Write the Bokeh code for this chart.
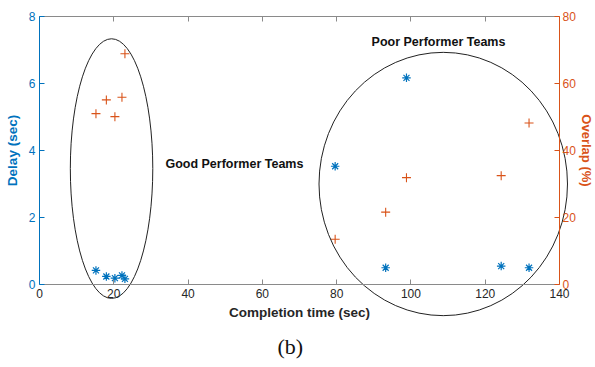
import numpy as np
from bokeh.plotting import figure
from bokeh.models import Range1d, LinearAxis, Label, FixedTicker
from bokeh.embed import file_html
from bokeh.resources import INLINE

# Completion time (sec) of each team
completion_time = [15.2, 18.0, 20.3, 22.2, 23.0, 79.6, 93.2, 98.8, 124.3, 131.8]
# Delay (sec), left axis
delay = [0.42, 0.24, 0.19, 0.27, 0.17, 3.53, 0.50, 6.17, 0.55, 0.50]
# Overlap (%), right axis
overlap = [51.0, 55.1, 50.1, 55.9, 68.9, 13.5, 21.6, 31.9, 32.5, 48.2]

x_ticks = [0, 20, 40, 60, 80, 100, 120, 140]
delay_ticks = [0, 2, 4, 6, 8]
overlap_ticks = [0, 20, 40, 60, 80]

BLUE = "#0072BD"
ORANGE = "#D95319"
DARK = "#262626"
FONT = "Liberation Sans"

# canvas and axes-box layout (pixels)
W, H = 595, 367
BOX_L, BOX_R, BOX_T, BOX_B = 39, 559, 16, 284
X0, X1 = 0, 140
Y0, Y1 = 0, 8
O0, O1 = 0, 80
sx = (BOX_R - BOX_L) / (X1 - X0)
sy = (BOX_B - BOX_T) / (Y1 - Y0)
so = (BOX_B - BOX_T) / (O1 - O0)

p = figure(width=W, height=H, output_backend="svg", toolbar_location=None,
           x_range=Range1d(X0 - BOX_L / sx, X1 + (W - BOX_R) / sx),
           y_range=Range1d(Y0 - (H - BOX_B) / sy, Y1 + BOX_T / sy),
           min_border=0, x_axis_location=None, y_axis_location=None)
p.extra_y_ranges = {"overlap": Range1d(O0 - (H - BOX_B) / so, O1 + BOX_T / so)}
p.grid.visible = False
p.outline_line_color = None
p.background_fill_color = "white"
p.border_fill_color = "white"


def style(ax, color, label=None):
    ax.axis_line_color = color
    ax.major_tick_line_color = color
    ax.major_tick_in = 5
    ax.major_tick_out = 0
    ax.minor_tick_line_color = None
    ax.major_label_text_color = color
    ax.major_label_text_font = FONT
    ax.major_label_text_font_size = "12px"
    ax.major_label_standoff = 4
    if label:
        ax.axis_label = label
        ax.axis_label_text_color = color
        ax.axis_label_text_font = FONT
        ax.axis_label_text_font_style = "bold"
        ax.axis_label_text_font_size = "13.5px"
        ax.axis_label_standoff = 4


xb = LinearAxis(ticker=FixedTicker(ticks=x_ticks), fixed_location=Y0, bounds=(X0, X1))
style(xb, "#8a8a8a", "Completion time (sec)")
xb.major_label_text_color = DARK
xb.axis_label_text_color = DARK
p.add_layout(xb, "below")

xt = LinearAxis(ticker=FixedTicker(ticks=x_ticks), fixed_location=Y1, bounds=(X0, X1))
style(xt, "#8a8a8a")
xt.major_label_overrides = {t: "" for t in x_ticks}
p.add_layout(xt, "above")

yl = LinearAxis(ticker=FixedTicker(ticks=delay_ticks), fixed_location=X0, bounds=(Y0, Y1))
style(yl, BLUE, "Delay (sec)")
yl.axis_label_standoff = 6
p.add_layout(yl, "left")

yr = LinearAxis(y_range_name="overlap", ticker=FixedTicker(ticks=overlap_ticks),
                fixed_location=X1, bounds=(O0, O1))
style(yr, ORANGE, "Overlap (%)")
yr.major_label_standoff = 3
yr.axis_label_standoff = 0
yr.axis_label_text_font_size = "13px"
p.add_layout(yr, "right")

p.scatter(completion_time, delay, marker="asterisk", size=8.5, line_color=BLUE, line_width=1.2)
p.scatter(completion_time, overlap, marker="cross", size=9, line_color=ORANGE, line_width=1.1,
          y_range_name="overlap")

# group outlines
p.ellipse(x=[19.4, 108.7], y=[3.46, 3.0], width=[22.2, 66.9], height=[7.75, 7.86],
          fill_color=None, line_color="#222222", line_width=1)

p.add_layout(Label(x=33.9, y=3.61, text="Good Performer Teams", text_font=FONT,
                   text_font_style="bold", text_font_size="12.5px", text_color="#111111",
                   text_baseline="middle"))
p.add_layout(Label(x=89.4, y=7.23, text="Poor Performer Teams", text_font=FONT,
                   text_font_style="bold", text_font_size="12.5px", text_color="#111111",
                   text_baseline="middle"))
p.add_layout(Label(x=67.5, y=-1.85, text="(b)", text_font="Liberation Serif",
                   text_font_size="22px", text_color="#111111",
                   text_align="center", text_baseline="middle"))

open("out.html", "w").write(file_html(p, INLINE))
